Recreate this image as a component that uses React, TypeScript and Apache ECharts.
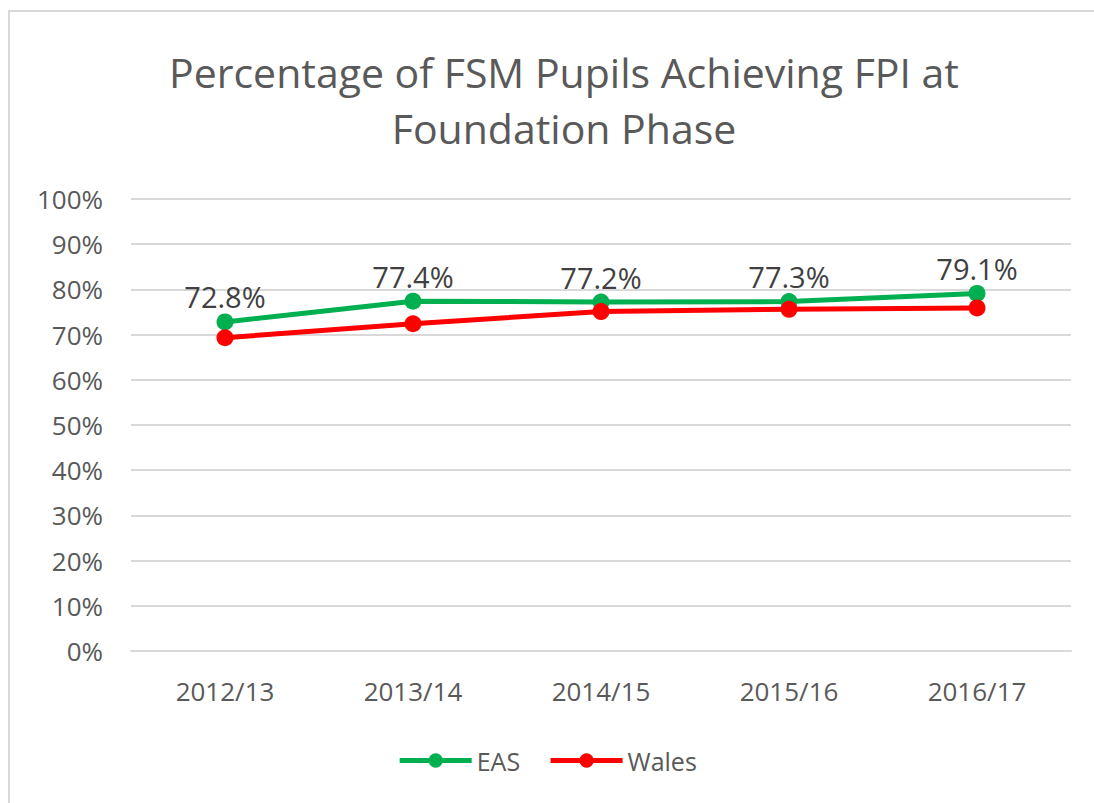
import React, { useEffect, useRef } from "react";
import * as echarts from "echarts";

const categories = ["2012/13", "2013/14", "2014/15", "2015/16", "2016/17"];
const easValues = [72.8, 77.4, 77.2, 77.3, 79.1];
const walesValues = [69.3, 72.4, 75.1, 75.6, 75.9];
const titleText = "Percentage of FSM Pupils Achieving FPI at\nFoundation Phase";

const FONT = "'Open Sans', 'Noto Sans', sans-serif";

export default function App() {
  const ref = useRef<HTMLDivElement>(null);
  useEffect(() => {
    if (!ref.current) return;
    const chart = echarts.init(ref.current, null, { renderer: "svg" });
    chart.setOption({
      animation: false,
      backgroundColor: "#ffffff",
      textStyle: { fontFamily: FONT },
      graphic: [
        {
          type: "rect",
          shape: { x: 9, y: 11, width: 1200, height: 900 },
          style: { fill: "none", stroke: "#d9d9d9", lineWidth: 2 },
          silent: true,
        },
      ],
      title: {
        text: titleText,
        left: 559,
        top: 39,
        textAlign: "center",
        textStyle: {
          fontFamily: FONT,
          fontSize: 41,
          fontWeight: "normal",
          color: "#595959",
          lineHeight: 56,
        },
      },
      legend: {
        top: 743,
        left: "center",
        itemWidth: 72,
        itemHeight: 18,
        itemGap: 28,
        lineStyle: { width: 5 },
        textStyle: { fontFamily: FONT, fontSize: 25, color: "#595959" },
        data: ["EAS", "Wales"],
      },
      grid: { left: 131, right: 23, top: 199, bottom: 152, containLabel: false },
      xAxis: {
        type: "category",
        data: categories,
        boundaryGap: true,
        axisLine: { show: true, lineStyle: { color: "#d9d9d9", width: 2 } },
        axisTick: { show: false },
        axisLabel: { fontFamily: FONT, fontSize: 26, color: "#595959", margin: 27 },
      },
      yAxis: {
        type: "value",
        min: 0,
        max: 100,
        interval: 10,
        axisLine: { show: false },
        axisTick: { show: false },
        splitLine: { lineStyle: { color: "#d9d9d9", width: 2 } },
        axisLabel: {
          fontFamily: FONT,
          fontSize: 26,
          color: "#595959",
          margin: 28,
          formatter: (v: number) => `${v}%`,
        },
      },
      series: [
        {
          name: "EAS",
          type: "line",
          data: easValues,
          symbol: "circle",
          symbolSize: 17,
          lineStyle: { color: "#00B050", width: 5 },
          itemStyle: { color: "#00B050" },
          label: {
            show: true,
            position: "top",
            distance: 2,
            fontFamily: FONT,
            fontSize: 29,
            color: "#404040",
            formatter: (p: any) => `${p.value.toFixed(1)}%`,
          },
          z: 3,
        },
        {
          name: "Wales",
          type: "line",
          data: walesValues,
          symbol: "circle",
          symbolSize: 17,
          lineStyle: { color: "#FF0000", width: 5 },
          itemStyle: { color: "#FF0000" },
          label: { show: false },
          z: 4,
        },
      ],
    });
    return () => chart.dispose();
  }, []);
  return (
    <div
      ref={ref}
      style={{ position: "fixed", left: 0, top: 0, width: 1094, height: 803 }}
    />
  );
}
